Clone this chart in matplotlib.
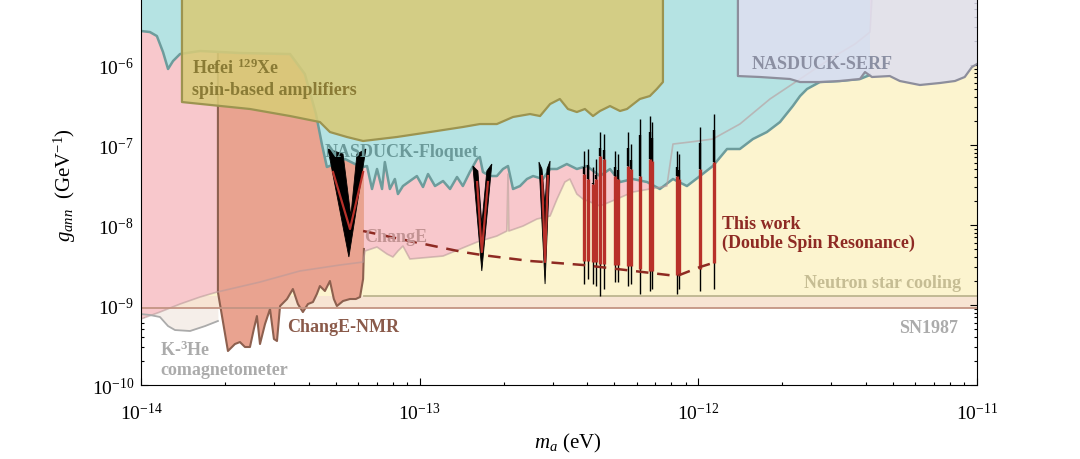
import numpy as np
import matplotlib
matplotlib.use("Agg")
import matplotlib.pyplot as plt
from matplotlib.ticker import FixedLocator, FuncFormatter, NullFormatter

plt.rcParams['font.family'] = ['Liberation Serif', 'DejaVu Serif']
plt.rcParams['mathtext.fontset'] = 'custom'
plt.rcParams['mathtext.rm'] = 'Liberation Serif'
plt.rcParams['mathtext.it'] = 'Liberation Serif:italic'
plt.rcParams['mathtext.bf'] = 'Liberation Serif:bold'

# all points are (log10 m_a [eV], log10 g_ann [GeV^-1])
floquet = [(-14.000, -5.575), (-13.968, -5.588), (-13.943, -5.638), (-13.921, -5.838), (-13.903, -6.050),
           (-13.885, -5.950), (-13.860, -5.863), (-13.788, -5.825), (-13.645, -5.850), (-13.465, -5.863),
           (-13.412, -6.113), (-13.372, -6.613), (-13.351, -6.988), (-13.333, -7.275), (-13.304, -7.238),
           (-13.268, -7.175), (-13.232, -7.238), (-13.203, -7.275), (-13.189, -7.263), (-13.171, -7.550),
           (-13.153, -7.300), (-13.135, -7.550), (-13.125, -7.213), (-13.107, -7.550), (-13.089, -7.425),
           (-13.078, -7.613), (-13.060, -7.513), (-13.035, -7.450), (-13.010, -7.388), (-12.988, -7.525),
           (-12.970, -7.363), (-12.945, -7.513), (-12.916, -7.450), (-12.891, -7.550), (-12.866, -7.400),
           (-12.845, -7.513), (-12.820, -7.338), (-12.794, -7.175), (-12.784, -7.150), (-12.773, -7.338),
           (-12.748, -7.388), (-12.723, -7.388), (-12.701, -7.300), (-12.683, -7.263), (-12.665, -7.550),
           (-12.640, -7.513), (-12.615, -7.425), (-12.593, -7.388), (-12.558, -7.425), (-12.532, -7.300),
           (-12.507, -7.300), (-12.472, -7.238), (-12.436, -7.300), (-12.400, -7.263), (-12.353, -7.388),
           (-12.317, -7.300), (-12.281, -7.463), (-12.235, -7.425), (-12.184, -7.463), (-12.138, -7.550),
           (-12.091, -7.425), (-12.041, -7.513), (-11.994, -7.388), (-11.948, -7.263), (-11.897, -7.050),
           (-11.851, -7.050), (-11.804, -6.925), (-11.754, -6.838), (-11.707, -6.713), (-11.661, -6.513),
           (-11.635, -6.388), (-11.610, -6.300), (-11.564, -6.213), (-11.492, -6.200), (-11.420, -6.175),
           (-11.384, -6.125)]

change = [(-14.000, -9.175), (-13.932, -9.088), (-13.860, -8.988), (-13.788, -8.900), (-13.727, -8.838),
          (-13.573, -8.713), (-13.430, -8.575), (-13.286, -8.500), (-13.203, -8.463), (-13.196, -8.325),
          (-13.153, -8.275), (-13.117, -8.363), (-13.096, -8.400), (-13.078, -8.325), (-13.060, -8.263),
          (-13.035, -8.425), (-12.916, -8.388), (-12.794, -8.213), (-12.723, -8.138), (-12.687, -8.075),
          (-12.683, -7.363), (-12.680, -8.075), (-12.629, -8.013), (-12.579, -7.925), (-12.532, -7.888),
          (-12.507, -7.675), (-12.479, -7.463), (-12.461, -7.425), (-12.436, -7.613), (-12.414, -7.675),
          (-12.353, -7.763), (-12.292, -7.675), (-12.235, -7.588), (-12.174, -7.550), (-12.113, -7.513),
          (-12.091, -6.988), (-12.030, -6.963), (-11.948, -6.925), (-11.851, -6.738), (-11.743, -6.425),
          (-11.635, -6.175), (-11.528, -5.925), (-11.438, -5.738), (-11.384, -5.588), (-11.377, -5.175)]

nmr = [(-13.724, -8.838), (-13.688, -9.575), (-13.663, -9.488), (-13.645, -9.463), (-13.627, -9.525),
       (-13.609, -9.525), (-13.595, -9.300), (-13.584, -9.138), (-13.573, -9.488), (-13.555, -9.238),
       (-13.537, -9.050), (-13.523, -9.425), (-13.512, -9.450), (-13.501, -9.013), (-13.476, -8.925),
       (-13.455, -8.800), (-13.437, -8.988), (-13.419, -9.088), (-13.401, -8.988), (-13.383, -8.963),
       (-13.369, -8.863), (-13.358, -8.763), (-13.340, -8.825), (-13.322, -8.700), (-13.308, -8.925),
       (-13.297, -9.013), (-13.275, -8.950), (-13.250, -8.925), (-13.229, -8.925), (-13.214, -8.900),
       (-13.203, -8.675), (-13.200, -8.300)]

hefei = [(-13.853, -6.463), (-13.609, -6.550), (-13.465, -6.638), (-13.358, -6.713), (-13.322, -6.838),
         (-13.261, -6.900), (-13.203, -6.950), (-13.082, -6.900), (-12.963, -6.838), (-12.845, -6.775),
         (-12.784, -6.738), (-12.723, -6.738), (-12.665, -6.650), (-12.604, -6.613), (-12.568, -6.638),
         (-12.532, -6.488), (-12.497, -6.425), (-12.468, -6.550), (-12.436, -6.588), (-12.407, -6.550),
         (-12.378, -6.638), (-12.353, -6.575), (-12.317, -6.513), (-12.281, -6.575), (-12.256, -6.550),
         (-12.210, -6.425), (-12.174, -6.388), (-12.149, -6.300), (-12.127, -6.213)]

serf = [(-11.858, -6.138), (-11.779, -6.150), (-11.671, -6.175), (-11.635, -6.213), (-11.564, -6.213),
        (-11.492, -6.200), (-11.420, -6.175), (-11.402, -6.088), (-11.377, -6.150), (-11.313, -6.138),
        (-11.277, -6.200), (-11.205, -6.250), (-11.133, -6.225), (-11.079, -6.200), (-11.044, -6.150),
        (-11.018, -6.025), (-11.000, -5.988)]

k3he = [(-14.000, -9.113), (-13.968, -9.125), (-13.932, -9.150), (-13.903, -9.263), (-13.878, -9.313),
        (-13.824, -9.325), (-13.770, -9.263), (-13.724, -9.200)]

ns_cooling = -8.891
ns_range = [-13.200, -11.000]
sn1987 = -9.041

# this work: V-shaped exclusion curves (outer V, inner V, red curve), each as left / apex / right
v_outer = [[(-13.329, -7.050), (-13.254, -8.400), (-13.193, -7.050)],
           [(-12.809, -7.263), (-12.777, -8.575), (-12.741, -7.238)],
           [(-12.572, -7.213), (-12.550, -8.738), (-12.532, -7.200)]]
v_inner = [[(-13.275, -7.113), (-13.247, -7.888), (-13.225, -7.113)],
           [(-12.791, -7.325), (-12.777, -7.988), (-12.759, -7.325)],
           [(-12.561, -7.300), (-12.550, -7.763), (-12.543, -7.300)]]
v_red = [[(-13.311, -7.338), (-13.250, -8.050), (-13.203, -7.338)],
         [(-12.794, -7.463), (-12.777, -8.338), (-12.755, -7.463)],
         [(-12.561, -7.388), (-12.550, -8.463), (-12.540, -7.388)]]

# narrow resonances: mass, top, bottom, red top, red bottom
spike_m = [-12.411, -12.396, -12.378, -12.367, -12.353, -12.339, -12.299, -12.289, -12.253,
           -12.242, -12.210, -12.174, -12.167, -12.077, -12.070, -11.994, -11.944]
spike_top = [-7.075, -7.050, -7.275, -7.175, -6.838, -6.863, -7.075, -7.113, -6.838,
             -6.988, -6.675, -6.638, -6.713, -7.075, -7.113, -6.775, -6.613]
spike_bot = [-8.738, -8.675, -8.738, -8.763, -8.888, -8.800, -8.713, -8.713, -8.763,
             -8.738, -8.863, -8.825, -8.800, -8.863, -8.800, -8.825, -8.800]
spike_rtop = [-7.363, -7.425, -7.488, -7.425, -7.138, -7.175, -7.388, -7.425, -7.263,
              -7.300, -7.388, -7.175, -7.200, -7.388, -7.425, -7.300, -7.213]
spike_rbot = [-8.450, -8.450, -8.463, -8.463, -8.488, -8.488, -8.500, -8.500, -8.513,
              -8.513, -8.550, -8.575, -8.575, -8.625, -8.625, -8.550, -8.475]

dashed = [(-13.203, -8.075), (-13.071, -8.175), (-12.845, -8.338), (-12.777, -8.375), (-12.604, -8.450),
          (-12.550, -8.463), (-12.414, -8.500), (-12.353, -8.525), (-12.199, -8.588), (-12.077, -8.638),
          (-11.994, -8.525), (-11.948, -8.475)]

x_decades = [-14, -13, -12, -11]
y_decades = [-10, -9, -8, -7, -6]

X_LIM = (1e-14, 1e-11)
Y_LIM = (1e-10, 10 ** -5.175)
TOP = Y_LIM[1]


def xy(pts):
    a = np.array(pts)
    return 10 ** a[:, 0], 10 ** a[:, 1]


def to_top(pts):
    # close a lower boundary up to the top of the axes
    x, y = xy(pts)
    return np.r_[x, x[-1], x[0]], np.r_[y, TOP, TOP]


def minors(decades, lim):
    v = [m * 10.0 ** d for d in range(decades[0] - 1, decades[-1] + 1) for m in range(2, 10)]
    return [t for t in v if lim[0] < t < lim[1]]


fig = plt.figure(figsize=(10.8, 4.6), dpi=100)
ax = fig.add_axes([141 / 1080, 1 - 386 / 460, 836 / 1080, 386 / 460])
ax.set_xscale('log')
ax.set_yscale('log')
ax.set_xlim(*X_LIM)
ax.set_ylim(*Y_LIM)

# K-3He comagnetometer
kx, ky = xy(k3he)
ax.fill_between(kx, ky, TOP, color='#f5eee9', lw=0, zorder=1)
ax.plot(kx, ky, color='#ababab', lw=1.3, zorder=4.7)

# SN1987 and neutron star cooling
ax.fill_between(X_LIM, 10 ** sn1987, TOP, color='#f7e4d3', lw=0, zorder=1.2)
ax.fill_between(X_LIM, 10 ** ns_cooling, TOP, color='#fcf4cf', lw=0, zorder=1.4)
ax.plot(X_LIM, [10 ** sn1987] * 2, color='#c39483', lw=1.3, zorder=4.7)
ax.plot(10 ** np.array(ns_range), [10 ** ns_cooling] * 2, color='#bdb58f', lw=1.3, zorder=4.7)

# ChangE
px, py = to_top(change)
ax.fill(px, py, color='#f8c8cc', lw=0, zorder=2)
cx, cy = xy(change)
ax.plot(cx, cy, color='#b99a9a', lw=1.2, alpha=0.6, zorder=4.6)

# ChangE-NMR
px, py = to_top(nmr)
ax.fill(px, py, color='#e9a390', lw=0, zorder=3)
nx, ny = xy(nmr)
ax.plot(np.r_[nx[0], nx], np.r_[TOP, ny], color='#8d604f', lw=1.5, zorder=3.5)

# NASDUCK-Floquet
px, py = to_top(floquet)
ax.fill(px, py, color='#b5e3e3', lw=0, zorder=4)
fx, fy = xy(floquet)
ax.plot(fx, fy, color='#6d9c9c', lw=1.8, zorder=4.5)

# NASDUCK-SERF
px, py = to_top(serf)
ax.fill(px, py, color='#dfdff0', alpha=0.85, lw=0, zorder=5)
sx, sy = xy(serf)
ax.plot(np.r_[sx[0], sx], np.r_[TOP, sy], color='#8d8e9c', lw=1.6, zorder=5.5)

# Hefei 129Xe
px, py = to_top(hefei)
ax.fill(px, py, color='#d8cb78', alpha=0.88, lw=0, zorder=6)
hx, hy = xy(hefei)
ax.plot(np.r_[hx[0], hx, hx[-1]], np.r_[TOP, hy, TOP], color='#9c9450', lw=1.6, zorder=6.5)

# this work
for outer, inner, red in zip(v_outer, v_inner, v_red):
    ox, oy = xy(outer)
    ix, iy = xy(inner)
    ax.fill(np.r_[ox, ix[::-1]], np.r_[oy, iy[::-1]], color='black', lw=0.6, zorder=8)
    rx, ry = xy(red)
    ax.plot(rx, ry, color='#b8312a', lw=1.6, zorder=9)

sm = 10 ** np.array(spike_m)
ax.vlines(sm, 10 ** np.array(spike_bot), 10 ** np.array(spike_top), color='black', lw=1.0, zorder=8)
ax.vlines(sm, 10 ** np.array(spike_rtop), 10 ** np.array(spike_top) / 1.6,
          color='black', lw=1.7, zorder=8.2)
ax.vlines(sm, 10 ** np.array(spike_rbot), 10 ** np.array(spike_rtop), color='#b8312a', lw=2.4, zorder=9)

dx, dy = xy(dashed)
ax.plot(dx, dy, color='#8e2a22', lw=1.8, dashes=(5, 3.5), zorder=9.5)

# labels on the plot
lab = dict(fontweight='bold', fontsize=13, ha='left', va='center', zorder=12)
ax.text(10 ** -13.817, 10 ** -6.025, r'Hefei $^{\mathbf{129}}$Xe', color='#8a7b35', **lab)
ax.text(10 ** -13.817, 10 ** -6.300, 'spin-based amplifiers', color='#8a7b35', **lab)
ax.text(10 ** -13.340, 10 ** -7.075, 'NASDUCK-Floquet', color='#6b9a9a', **lab)
ax.text(10 ** -11.808, 10 ** -5.975, 'NASDUCK-SERF', color='#8b8fa2', **lab)
ax.text(10 ** -13.200, 10 ** -8.138, 'ChangE', color='#c29393', **lab)
ax.text(10 ** -13.476, 10 ** -9.263, 'ChangE-NMR', color='#8a5a4a', **lab)
ax.text(10 ** -13.932, 10 ** -9.550, r'K-$^{\mathbf{3}}$He', color='#ababab', **lab)
ax.text(10 ** -13.932, 10 ** -9.800, 'comagnetometer', color='#ababab', **lab)
ax.text(10 ** -11.915, 10 ** -7.975, 'This work', color='#8e2a24', **lab)
ax.text(10 ** -11.915, 10 ** -8.213, '(Double Spin Resonance)', color='#8e2a24', **lab)
lab['ha'] = 'right'
ax.text(10 ** -11.058, 10 ** -8.713, 'Neutron star cooling', color='#c6bd94', **lab)
ax.text(10 ** -11.069, 10 ** -9.275, 'SN1987', color='#ababab', **lab)

# axes
fmt = FuncFormatter(lambda v, p: r'$10^{%d}$' % round(np.log10(v)))
ax.xaxis.set_major_locator(FixedLocator([10.0 ** d for d in x_decades]))
ax.yaxis.set_major_locator(FixedLocator([10.0 ** d for d in y_decades]))
ax.xaxis.set_minor_locator(FixedLocator(minors(x_decades, X_LIM)))
ax.yaxis.set_minor_locator(FixedLocator(minors(y_decades, Y_LIM)))
for axis in (ax.xaxis, ax.yaxis):
    axis.set_major_formatter(fmt)
    axis.set_minor_formatter(NullFormatter())
ax.tick_params(which='both', direction='in', right=True, top=False, labelsize=14, width=0.8)
ax.tick_params(which='major', length=5)
ax.tick_params(which='minor', length=2.5)
ax.tick_params(axis='x', pad=12)
ax.tick_params(axis='y', pad=5)
ax.spines['top'].set_visible(False)
for s in ('left', 'right', 'bottom'):
    ax.spines[s].set_linewidth(0.8)
    ax.spines[s].set_zorder(20)

ax.set_xlabel(r'$m_a$ (eV)', fontsize=15)
ax.set_ylabel(r'$g_{ann}$  (GeV$^{-1}$)', fontsize=15)
ax.xaxis.set_label_coords(0.51, -0.12)
ax.yaxis.set_label_coords(-0.075, 0.52)

fig.savefig('out.png', dpi=100)
